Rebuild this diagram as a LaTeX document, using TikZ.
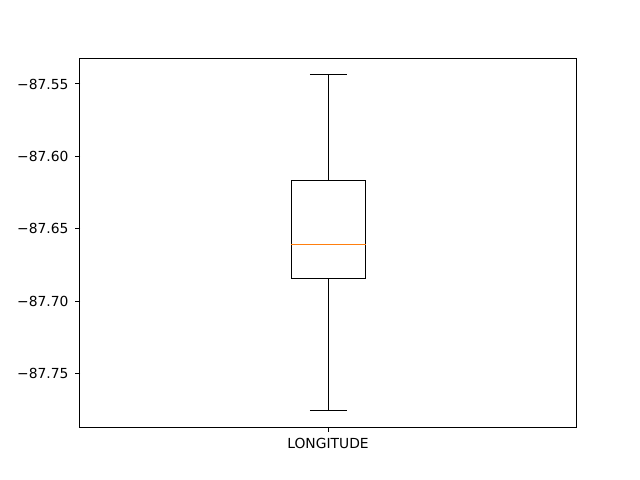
\documentclass[tikz,border=0pt]{standalone}
\usepackage{fontspec}
\setmainfont{DejaVu Sans}
\usepackage{xcolor}
\usetikzlibrary{positioning}
\definecolor{mplorange}{HTML}{FF7F0E}

\begin{document}
\begin{tikzpicture}[x=1bp,y=-1bp]
		\tikzstyle{axes}=[draw=black, line width=1bp]
		\tikzstyle{tick}=[draw=black, line width=1bp]
		\tikzstyle{ticklabel}=[inner sep=0pt, font=\fontsize{13.9}{16}\selectfont]
		\tikzstyle{boxpart}=[draw=black, line width=1.2bp]
		\tikzstyle{median}=[draw=mplorange, line width=1.3bp]

		\useasboundingbox (0,0) rectangle (640,480);

		% axes frame
		\node (frame) [axes, rectangle, inner sep=0pt, minimum width=496bp, minimum height=368.8bp] at (328,242.6) {};

		% y ticks
		\foreach \v/\y in {55/84, 60/156.4, 65/228.8, 70/301.2, 75/373.6} {
			\coordinate (t\v) at (80,\y);
			\draw [tick] (t\v) -- ++(-4.86,0);
			\node (l\v) [ticklabel, anchor=east] at (68.6,\y) {−87.\v};
		}

		% box and whiskers
		\node (box) [boxpart, rectangle, inner sep=0pt, minimum width=74.7bp, minimum height=98bp] at (328.5,229.3) {};
		\coordinate (captop) at (328.5,74.5);
		\coordinate (capbot) at (328.5,410.5);
		\coordinate (med) at (328.5,244.3);
		\draw [boxpart] (box.north) -- (captop);
		\draw [boxpart] (box.south) -- (capbot);
		\draw [boxpart] ([xshift=-18.7bp]captop) -- ([xshift=18.7bp]captop);
		\draw [boxpart] ([xshift=-18.7bp]capbot) -- ([xshift=18.7bp]capbot);
		\draw [median] (box.west |- med) -- (box.east |- med);

		% x tick
		\coordinate (xt) at (328.5,426.8);
		\draw [tick] (xt) -- ++(0,4.86);
		\node (xlabel) [ticklabel, anchor=north] at (328,437.6) {LONGITUDE};
\end{tikzpicture}
\end{document}
